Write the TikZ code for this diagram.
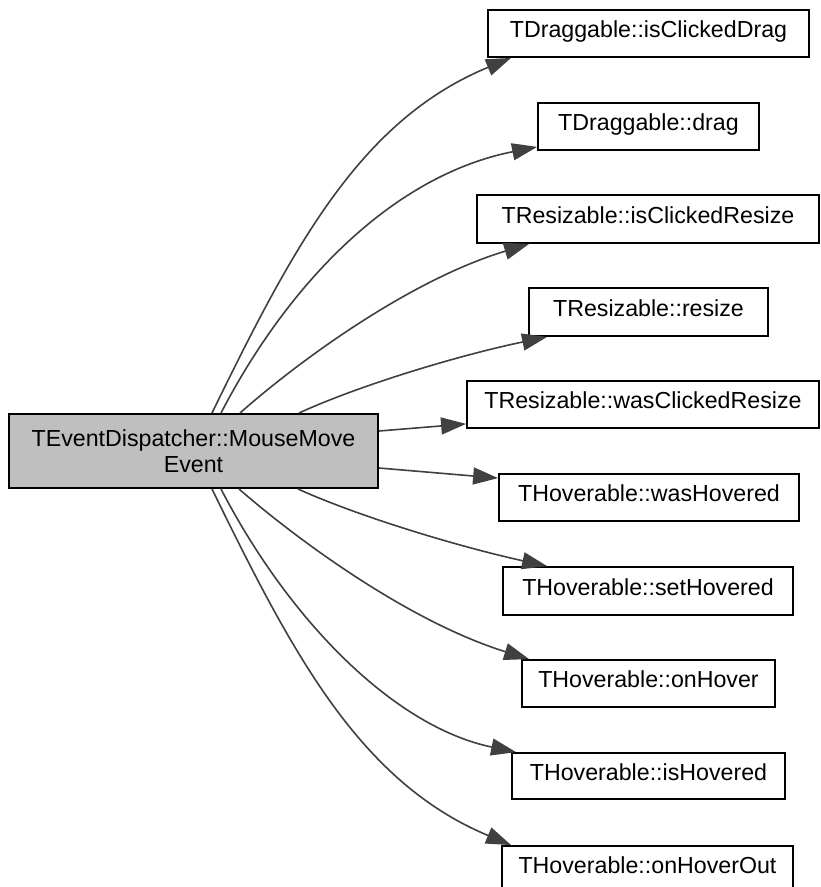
\documentclass[tikz,border=0pt]{standalone}
\usepackage{fontspec}
\setmainfont{Liberation Sans}
\usetikzlibrary{arrows.meta}

\begin{document}
\begin{tikzpicture}[
  x=1pt, y=-1pt,
  every node/.style={font=\fontsize{23.2}{26}\selectfont},
  fnbox/.style={draw=black, line width=1.8pt, fill=white, inner sep=0pt,
    text height=16pt, text depth=8pt},
  callerbox/.style={draw=black, line width=2pt, fill=black!25, inner sep=0pt,
    align=center},
  call/.style={draw=black!75, line width=1.6pt,
    -{Triangle[length=25pt, width=17pt, fill=black!75]}},
]
% canvas
\clip (0,0) rectangle (821,887);
\fill[white] (0,0) rectangle (821,887);

% caller
\node[callerbox, minimum width=369pt, minimum height=74pt] (main) at (193.5,451)
  {TEventDispatcher::MouseMove\\Event};

% callees
\node[fnbox, minimum width=321pt, minimum height=47pt] (n1)  at (648.5,33.5)  {TDraggable::isClickedDrag};
\node[fnbox, minimum width=221pt, minimum height=47pt] (n2)  at (648.5,126.5) {TDraggable::drag};
\node[fnbox, minimum width=342pt, minimum height=48pt] (n3)  at (648,219)     {TResizable::isClickedResize};
\node[fnbox, minimum width=239pt, minimum height=48pt] (n4)  at (648.5,312)   {TResizable::resize};
\node[fnbox, minimum width=352pt, minimum height=47pt] (n5)  at (643,404.5)   {TResizable::wasClickedResize};
\node[fnbox, minimum width=300pt, minimum height=47pt] (n6)  at (649,497.5)   {THoverable::wasHovered};
\node[fnbox, minimum width=290pt, minimum height=48pt] (n7)  at (648,591)     {THoverable::setHovered};
\node[fnbox, minimum width=253pt, minimum height=47pt] (n8)  at (648.5,683.5) {THoverable::onHover};
\node[fnbox, minimum width=273pt, minimum height=46pt] (n9)  at (648.5,776)   {THoverable::isHovered};
\node[fnbox, minimum width=291pt, minimum height=47pt] (n10) at (647.5,869.5) {THoverable::onHoverOut};

% calls leaving the top of the caller
\draw[call] ([xshift=204pt]main.north west) .. controls (293,247) and (360,120) .. ([xshift=24pt]n1.south west);
\draw[call] ([xshift=213pt]main.north west) .. controls (290,280) and (395,175) .. ([yshift=4pt]n2.south west);
\draw[call] ([xshift=232pt]main.north west) .. controls (300,360) and (410,280) .. ([xshift=53pt]n3.south west);
\draw[call] ([xshift=291pt]main.north west) .. controls (360,385) and (460,355) .. ([xshift=19pt]n4.south west);

% calls leaving the right side
\draw[call] ([yshift=-18pt]main.north east) -- ([yshift=5pt]n5.south west);
\draw[call] ([yshift=-55pt]main.north east) -- ([yshift=-5pt]n6.north west);

% calls leaving the bottom (mirror images of the top ones)
\draw[call] ([xshift=290pt]main.south west) .. controls (360,517) and (460,547) .. ([xshift=45pt]n7.north west);
\draw[call] ([xshift=231pt]main.south west) .. controls (300,542) and (410,622) .. ([xshift=8pt]n8.north west);
\draw[call] ([xshift=213pt]main.south west) .. controls (290,622) and (395,727) .. ([xshift=5pt]n9.north west);
\draw[call] ([xshift=204pt]main.south west) .. controls (293,655) and (360,782) .. ([xshift=10pt]n10.north west);
\end{tikzpicture}
\end{document}
